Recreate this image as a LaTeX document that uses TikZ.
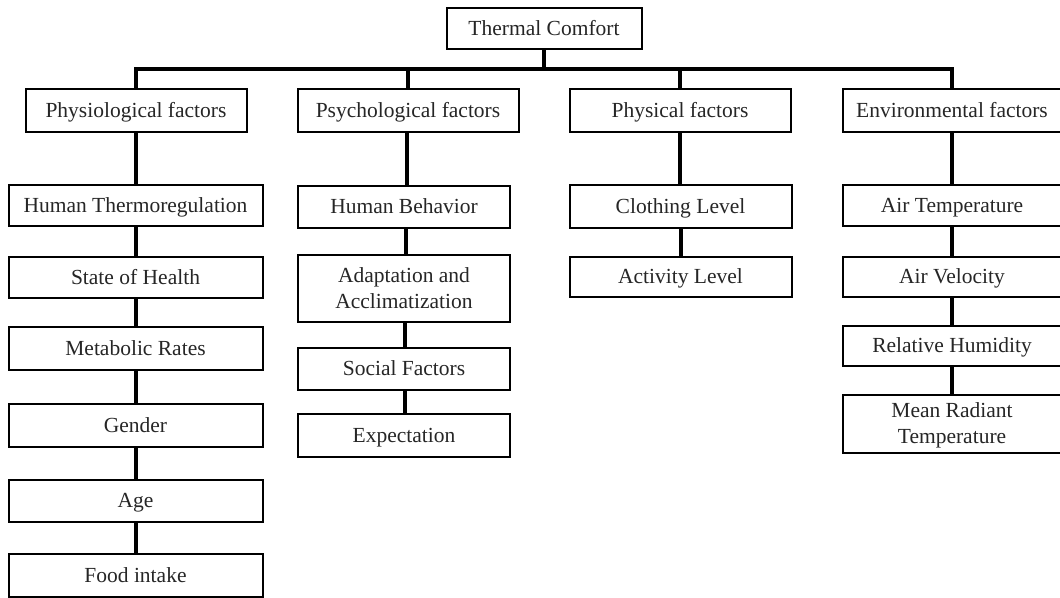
\documentclass[tikz,border=0pt]{standalone}
\usepackage{fontspec}
\setmainfont{Liberation Serif}
\usetikzlibrary{calc}
\begin{document}
\begin{tikzpicture}[x=1pt,y=-1pt,
  box/.style={draw=black, line width=2pt, fill=white, inner sep=0pt,
    align=center, text depth=0pt, font=\fontsize{21.5}{26}\selectfont, text=black!85},
  link/.style={draw=black, line width=4pt}]
\useasboundingbox (0,0) rectangle (1060,597);
\clip (0,0) rectangle (1060,597);

% root
\node[box, minimum width=195, minimum height=41] (tc) at (544,28) {Thermal Comfort};

% factor groups
\node[box, minimum width=221, minimum height=43] (phy) at (136,110) {Physiological factors};
\node[box, minimum width=221, minimum height=43] (psy) at (408,110) {Psychological factors};
\node[box, minimum width=221, minimum height=43] (phs) at (680,110) {Physical factors};
\node[box, minimum width=219, minimum height=43] (env) at (952,110) {Environmental factors};

% physiological
\node[box, minimum width=254, minimum height=41] (ht)  at (135.5,205) {Human Thermoregulation};
\node[box, minimum width=254, minimum height=41] (soh) at (135.5,277) {State of Health};
\node[box, minimum width=254, minimum height=43] (mr)  at (135.5,348) {Metabolic Rates};
\node[box, minimum width=254, minimum height=43] (gen) at (135.5,425) {Gender};
\node[box, minimum width=254, minimum height=42] (age) at (135.5,500.5) {Age};
\node[box, minimum width=254, minimum height=43] (food) at (135.5,575.5) {Food intake};

% psychological
\node[box, minimum width=212, minimum height=42] (hb)  at (404,206.5) {Human Behavior};
\node[box, minimum width=212, minimum height=67] (ada) at (404,288) {Adaptation and\\Acclimatization};
\node[box, minimum width=212, minimum height=42] (soc) at (404,368.5) {Social Factors};
\node[box, minimum width=212, minimum height=43] (exp) at (404,435) {Expectation};

% physical
\node[box, minimum width=222, minimum height=43] (clo) at (680.5,206) {Clothing Level};
\node[box, minimum width=222, minimum height=40] (act) at (680.5,276.5) {Activity Level};

% environmental
\node[box, minimum width=219, minimum height=41] (at)  at (952,205) {Air Temperature};
\node[box, minimum width=219, minimum height=40] (av)  at (952,276.5) {Air Velocity};
\node[box, minimum width=219, minimum height=40] (rh)  at (952,345.5) {Relative Humidity};
\node[box, minimum width=219, minimum height=58] (mrt) at (952,423.5) {Mean Radiant\\Temperature};

% branching bar
\coordinate (bar) at (544,69);
\draw[link] (tc.south) -- (tc.south |- bar);
\draw[link, line cap=rect] (phy.north) -- (phy.north |- bar) -- (env.north |- bar) -- (env.north);
\draw[link] (psy.north) -- (psy.north |- bar);
\draw[link] (phs.north) -- (phs.north |- bar);

% vertical chains
\draw[link] (phy.south) -- (phy.south |- ht.north);
\draw[link] (ht.south) -- (soh.north);
\draw[link] (soh.south) -- (mr.north);
\draw[link] (mr.south) -- (gen.north);
\draw[link] (gen.south) -- (age.north);
\draw[link] (age.south) -- (food.north);

\draw[link] ($(psy.south)+(-1,0)$) -- ($(psy.south |- hb.north)+(-1,0)$);
\draw[link] ($(hb.south)+(2,0)$) -- ($(ada.north)+(2,0)$);
\draw[link] ($(ada.south)+(1,0)$) -- ($(soc.north)+(1,0)$);
\draw[link] ($(soc.south)+(1,0)$) -- ($(exp.north)+(1,0)$);

\draw[link] (phs.south) -- (phs.south |- clo.north);
\draw[link] (clo.south) -- (act.north);

\draw[link] (env.south) -- (env.south |- at.north);
\draw[link] (at.south) -- (av.north);
\draw[link] (av.south) -- (rh.north);
\draw[link] (rh.south) -- (mrt.north);
\end{tikzpicture}
\end{document}
